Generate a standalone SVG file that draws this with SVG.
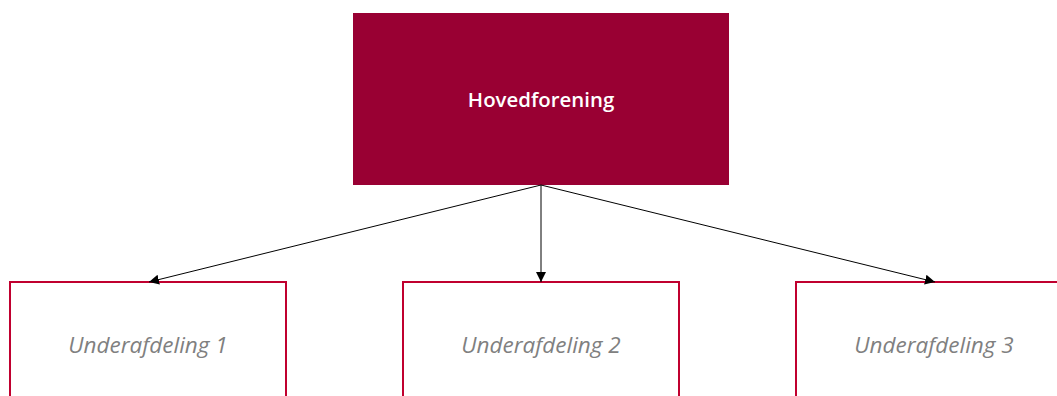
<svg xmlns="http://www.w3.org/2000/svg" width="1057" height="396" viewBox="0 0 1057 396">
<style>
.sub{fill:#ffffff;stroke:#c0002f;stroke-width:2}
.subt{font-family:"Open Sans","Noto Sans",sans-serif;font-style:italic;font-size:22.5px;fill:#808080;text-anchor:middle}
.main{fill:#990033}
.maint{font-family:"Open Sans","Noto Sans",sans-serif;font-weight:600;font-size:20.4px;fill:#ffffff;text-anchor:middle}
.conn{stroke:#000;stroke-width:1;fill:none;marker-end:url(#ah)}
</style>
<defs>
<marker id="ah" viewBox="0 0 10 10" refX="10" refY="5" markerWidth="10" markerHeight="10" markerUnits="userSpaceOnUse" orient="auto">
<path d="M0,0 L10,5 L0,10 z" fill="#000"/>
</marker>
</defs>
<rect width="1057" height="396" fill="#fff"/>
<g id="hovedforening">
<rect class="main" x="353" y="13" width="376" height="172"/>
<text class="maint" x="541" y="107">Hovedforening</text>
</g>
<g id="underafdeling1">
<rect class="sub" x="10" y="282" width="276" height="130"/>
<text class="subt" x="148" y="353">Underafdeling 1</text>
</g>
<g id="underafdeling2">
<rect class="sub" x="403" y="282" width="276" height="130"/>
<text class="subt" x="541" y="353">Underafdeling 2</text>
</g>
<g id="underafdeling3">
<rect class="sub" x="796" y="282" width="276" height="130"/>
<text class="subt" x="934" y="353">Underafdeling 3</text>
</g>
<g id="connectors">
<line class="conn" x1="541" y1="185" x2="149" y2="282"/>
<line class="conn" x1="541" y1="185" x2="541" y2="282"/>
<line class="conn" x1="541" y1="185" x2="935" y2="282"/>
</g>
</svg>
